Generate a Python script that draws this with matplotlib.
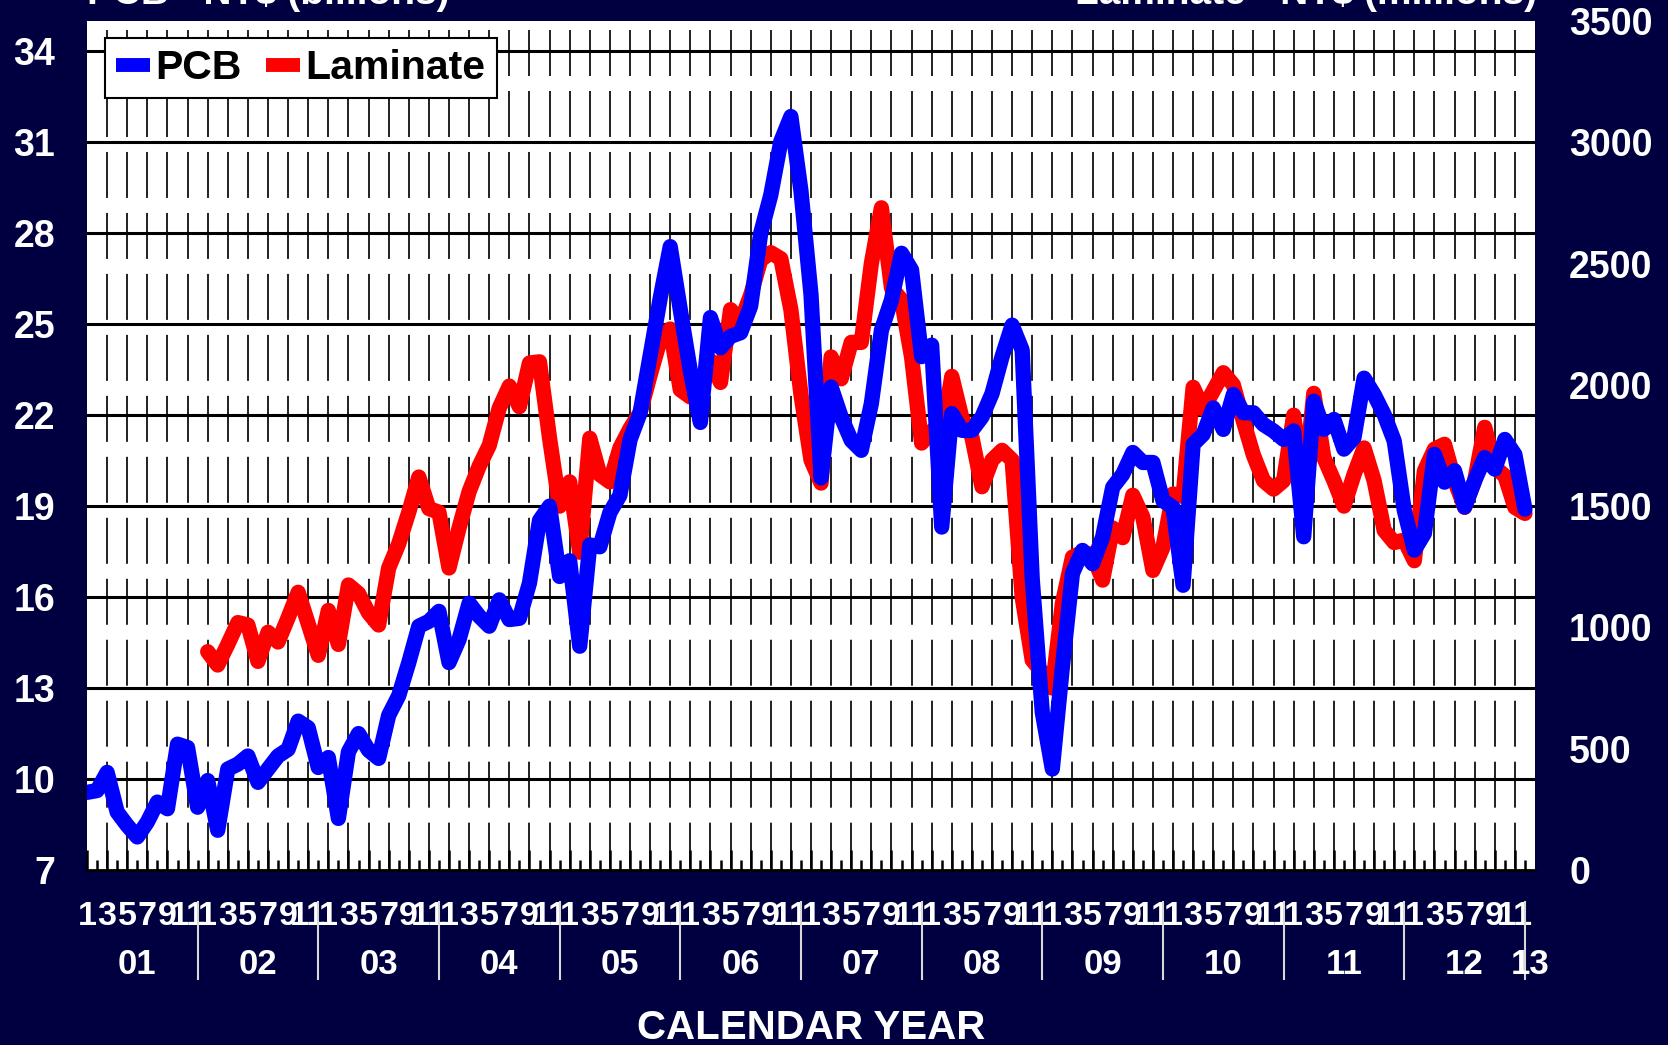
import matplotlib
matplotlib.use("Agg")
import matplotlib.pyplot as plt
import matplotlib.transforms as mtransforms
from matplotlib.lines import Line2D
import numpy as np

plt.rcParams['font.family'] = ['Liberation Sans', 'DejaVu Sans']
plt.rcParams['font.weight'] = 'bold'
plt.rcParams['lines.scale_dashes'] = False

# ---------------- data ----------------
# PCB monthly sales, NT$ billions, Jan 2001 .. Dec 2012
pcb_billions = [
    9.56, 9.62, 10.22, 8.91, 8.47, 8.09, 8.58, 9.24, 9.02, 11.15, 11.04, 9.07,        # 2001
    9.95, 8.31, 10.33, 10.49, 10.76, 9.89, 10.33, 10.76, 10.98, 11.91, 11.69, 10.38,  # 2002
    10.71, 8.70, 10.90, 11.50, 10.95, 10.68, 12.10, 12.75, 13.84, 15.04, 15.20, 15.53, # 2003
    13.84, 14.60, 15.80, 15.37, 15.04, 15.91, 15.26, 15.30, 16.46, 18.53, 19.00, 16.68, # 2004
    17.20, 14.38, 17.72, 17.66, 18.79, 19.36, 21.19, 22.07, 23.96, 25.85, 27.56, 25.48, # 2005
    23.46, 21.76, 25.22, 24.22, 24.60, 24.72, 25.60, 28.00, 29.26, 31.03, 31.85, 29.40, # 2006
    25.98, 19.93, 22.93, 21.94, 21.17, 20.84, 22.38, 24.80, 25.80, 27.34, 26.79, 23.93, # 2007
    24.31, 18.31, 22.05, 21.50, 21.50, 21.94, 22.71, 23.93, 24.97, 24.15, 16.60, 12.20, # 2008
    10.33, 13.70, 16.78, 17.54, 17.10, 17.98, 19.62, 20.05, 20.77, 20.44, 20.44, 19.18, # 2009
    18.96, 16.39, 21.04, 21.37, 22.24, 21.53, 22.68, 22.08, 22.08, 21.69, 21.48, 21.20, # 2010
    21.48, 17.99, 22.46, 21.53, 21.86, 20.88, 21.26, 23.22, 22.68, 22.02, 21.15, 18.86, # 2011
    17.55, 18.10, 20.71, 19.79, 20.17, 18.97, 19.84, 20.60, 20.22, 21.20, 20.70, 18.90, # 2012
]
# Laminate monthly sales, NT$ millions, Jan 2002 .. Dec 2012
laminate_millions = [
    900, 845, 930, 1020, 1010, 860, 980, 940, 1040, 1145, 1015, 885,          # 2002
    1070, 930, 1175, 1140, 1060, 1010, 1245, 1345, 1475, 1620, 1490, 1475,    # 2003
    1245, 1410, 1560, 1665, 1750, 1905, 1995, 1910, 2090, 2095, 1780, 1500,   # 2004
    1600, 1310, 1780, 1630, 1600, 1740, 1820, 1885, 2040, 2185, 2230, 1980,   # 2005
    1950, 1990, 2100, 2010, 2310, 2260, 2370, 2515, 2545, 2520, 2310, 1960,   # 2006
    1690, 1595, 2115, 2025, 2175, 2175, 2500, 2730, 2400, 2350, 2115, 1760,   # 2007
    1810, 1790, 2035, 1865, 1785, 1580, 1690, 1730, 1690, 1125, 865, 815,     # 2008
    750, 1100, 1290, 1310, 1300, 1195, 1410, 1370, 1545, 1455, 1235, 1330,    # 2009
    1550, 1540, 1990, 1900, 1975, 2050, 2000, 1850, 1710, 1605, 1570, 1605,   # 2010
    1875, 1560, 1965, 1700, 1605, 1500, 1630, 1740, 1605, 1400, 1350, 1360,   # 2011
    1275, 1645, 1735, 1755, 1605, 1495, 1605, 1825, 1660, 1625, 1495, 1470,   # 2012
]
month_labels = ['1', '3', '5', '7', '9', '11']
year_labels = ['01', '02', '03', '04', '05', '06', '07', '08', '09', '10', '11', '12', '13']
left_ticks = [7, 10, 13, 16, 19, 22, 25, 28, 31, 34]
right_ticks = [0, 500, 1000, 1500, 2000, 2500, 3000, 3500]
series_names = ['PCB', 'Laminate']
left_title = 'PCB - NT$ (billions)'
right_title = 'Laminate - NT$ (millions)'
x_title = 'CALENDAR YEAR'

# ---------------- layout ----------------
W, H = 1668, 1045
BG = '#000040'
fig = plt.figure(figsize=(W / 100, H / 100), dpi=100, facecolor=BG)
L, R, T, B = 87, 1535, 21, 870
ax = fig.add_axes([L / W, 1 - B / H, (R - L) / W, (B - T) / H])
ax.set_facecolor('white')

n_months = len(pcb_billions)            # 144 months on the axis (Jan 2001 = 0)
ax.set_xlim(0, n_months)
ax.set_ylim(left_ticks[0], 35)

pcb_x = np.arange(n_months)
lam_x = np.arange(n_months - len(laminate_millions), n_months)

LW = 11

# grid
for v in left_ticks[1:]:
    ax.axhline(v, color='black', lw=2.2, zorder=1)
for m in range(2, n_months, 2):
    ax.axvline(m, ymin=1, ymax=0, color='#202020', lw=1.4,
               linestyle=(37.4, (33.1, 10.8)), zorder=0.9)

for s in ['top', 'left', 'right']:
    ax.spines[s].set_visible(False)
ax.spines['bottom'].set_color('black')
ax.spines['bottom'].set_linewidth(2)

# x ticks
major = list(range(0, n_months, 2))
ax.set_xticks(major)
ax.set_xticklabels([month_labels[(m % 12) // 2] for m in major])
ax.set_xticks(list(range(1, n_months, 2)), minor=True)
ax.tick_params(axis='x', which='major', direction='in', length=14.4, width=1.8,
               color='black', labelcolor='white', labelsize=24.5, pad=22)
ax.tick_params(axis='x', which='minor', direction='in', length=7.2, width=1.8,
               color='black')
# left ticks
ax.set_yticks(left_ticks)
ax.tick_params(axis='y', length=0, labelcolor='white', labelsize=27, pad=23)

# laminate on right axis
ax2 = ax.twinx()
ax2.set_ylim(right_ticks[0], right_ticks[-1])
ax2.patch.set_visible(False)
for s in ax2.spines.values():
    s.set_visible(False)
ax2.plot(lam_x, laminate_millions, color='#FF0000', lw=LW,
         solid_joinstyle='round', solid_capstyle='round', zorder=3)
ax2.set_yticks(right_ticks)
ax2.tick_params(axis='y', length=0, labelcolor='white', labelsize=27, pad=24.5)

# PCB on top
ax3 = ax.twinx()
ax3.set_ylim(left_ticks[0], 35)
ax3.set_axis_off()
ax3.plot(pcb_x, pcb_billions, color='#0000FF', lw=LW,
         solid_joinstyle='round', solid_capstyle='round', zorder=3)

handles = [Line2D([], [], color='#0000FF', lw=10, solid_capstyle='butt'),
           Line2D([], [], color='#FF0000', lw=10, solid_capstyle='butt')]
leg = ax3.legend(handles, series_names, loc='upper left',
                 bbox_to_anchor=(0.0124, 0.98), ncol=2, frameon=True,
                 fancybox=False, edgecolor='black', facecolor='white',
                 framealpha=1, prop={'weight': 'bold', 'size': 29.5},
                 handlelength=0.83, handletextpad=0.13, columnspacing=0.6,
                 borderpad=0.27, borderaxespad=0)
leg.get_frame().set_linewidth(1.5)

# year separators and year labels
bt = mtransforms.blended_transform_factory(ax.transData, fig.transFigure)
seps = list(range(11, n_months, 12))
for m in seps:
    ax.plot([m, m], [1 - 902 / H, 1 - 979 / H], transform=bt, color='#d8d8d8',
            lw=1.5, clip_on=False)
bounds = [-1] + seps + [n_months]
for i, lab in enumerate(year_labels):
    c = (bounds[i] + bounds[i + 1]) / 2
    ax.text(c, 1 - 964 / H, lab, transform=bt, ha='center', va='center',
            color='white', fontsize=25, fontweight='bold')

fig.text((L + R) / 2 / W, 1 - 1028 / H, x_title, ha='center', va='center',
         color='white', fontsize=29, fontweight='bold')
fig.text(L / W, 1 - 4 / H, left_title, ha='left', va='baseline',
         color='white', fontsize=28, fontweight='bold')
fig.text((R + 2) / W, 1 - 4 / H, right_title, ha='right', va='baseline',
         color='white', fontsize=28, fontweight='bold')

fig.savefig('out.png', dpi=100, facecolor=BG)
